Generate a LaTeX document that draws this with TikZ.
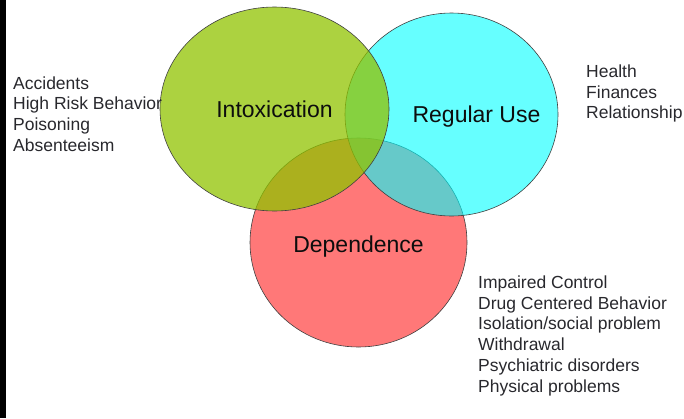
\documentclass[tikz,border=0pt]{standalone}
\usepackage{fontspec}
\setmainfont{Liberation Sans}
\usetikzlibrary{shapes.geometric}
\definecolor{intoxgreen}{RGB}{144,195,0}
\definecolor{regcyan}{RGB}{0,255,255}
\definecolor{deppink}{RGB}{255,120,120}
\definecolor{listgray}{RGB}{40,40,45}

\begin{document}
\begin{tikzpicture}[
    x=1pt,
    y=-1pt,
    blob/.style={ellipse,draw=black!75,line width=0.6pt,inner sep=0pt,outer sep=0pt},
    title/.style={font=\fontsize{23}{27}\selectfont,text=black!95,inner sep=0pt,text depth=0pt},
    items/.style={font=\fontsize{17.5}{20.8}\selectfont,text=listgray,align=left,inner sep=0pt,anchor=west},
]
    \useasboundingbox (0,0) rectangle (684,418);
    \fill[black] (0,0) rectangle (6,418);
    % the three circles
    \node[blob,fill=deppink,minimum width=217pt,minimum height=209pt] (dep) at (358.5,242.5) {};
    \node[blob,fill=regcyan,fill opacity=0.6,minimum width=213pt,minimum height=203pt] (reg) at (451.5,114.5) {};
    \node[blob,fill=intoxgreen,fill opacity=0.75,minimum width=229pt,minimum height=204pt] (intox) at (274.5,109) {};
    \node[title] (intoxname) at (intox) {Intoxication};
    \node[title] (regname) at ([xshift=25pt]reg.center) {Regular Use};
    \node[title] (depname) at ([yshift=-1.5pt]dep.center) {Dependence};
    % consequences
    \node[items] (intoxlist) at (13,114) {Accidents\\High Risk Behavior\\Poisoning\\Absenteeism};
    \node[items] (reglist) at (586,93.5) {Health\\Finances\\Relationship};
    \node[items] (deplist) at (478,335.8) {Impaired Control\\Drug Centered Behavior\\Isolation/social problem\\Withdrawal\\Psychiatric disorders\\Physical problems};
\end{tikzpicture}
\end{document}
